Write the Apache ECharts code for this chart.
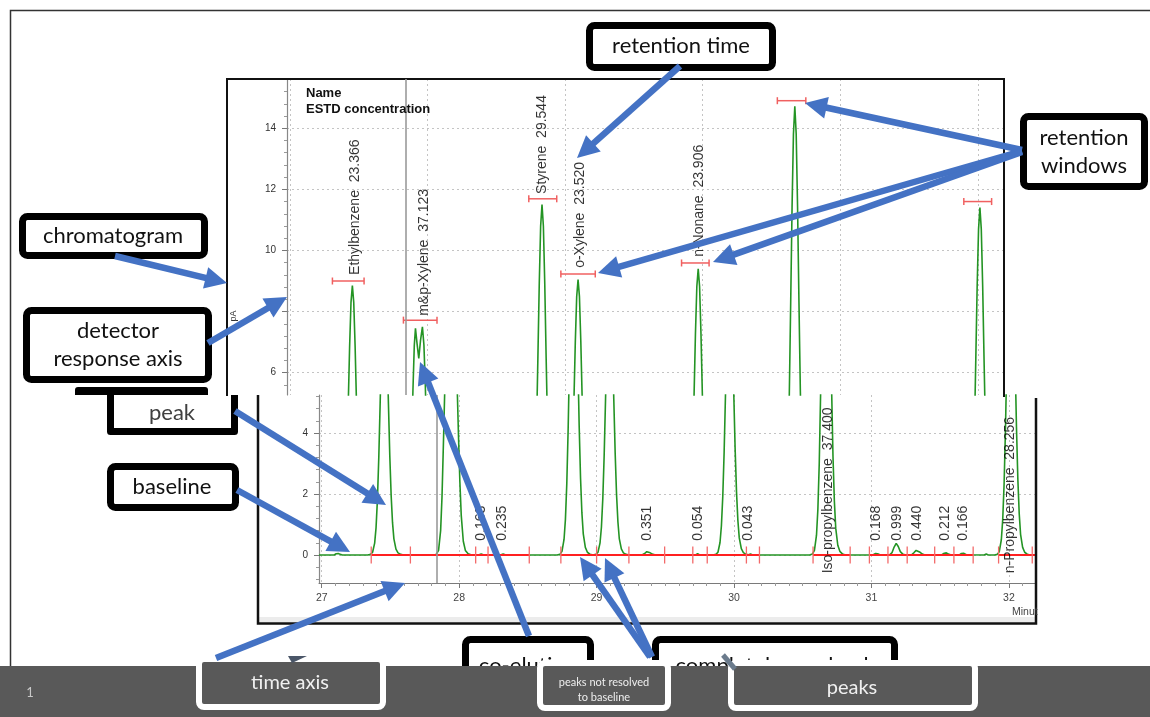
<!DOCTYPE html>
<html><head><meta charset="utf-8">
<script src="https://cdn.jsdelivr.net/npm/echarts@6/dist/echarts.min.js"></script>
<style>html,body{margin:0;padding:0;background:#fff}#c{width:1150px;height:717px}</style>
</head><body><div id="c"></div><script>
// ---------------- DATA ----------------
const trace = [
 [26.98,0],[27.09,0],[27.105,0.04],[27.12,0.05],[27.135,0.02],[27.15,0],
 [27.335,0],[27.355,0.02],[27.37,0.09],[27.385,0.39],[27.395,0.89],[27.405,1.80],[27.415,3.19],[27.425,4.98],[27.435,6.86],[27.445,8.30],[27.455,8.85],[27.465,8.30],[27.475,6.86],[27.485,5.00],[27.495,3.27],[27.505,1.95],[27.515,1.06],[27.525,0.53],[27.54,0.19],[27.555,0.07],[27.575,0.02],[27.595,0],
 [27.83,0],[27.85,0.15],[27.865,0.8],[27.875,1.9],[27.885,3.6],[27.895,5.4],[27.905,6.9],[27.9135,7.45],[27.925,6.95],[27.9375,6.47],[27.95,7.05],[27.964,7.5],[27.975,6.9],[27.985,5.6],[27.995,3.9],[28.005,2.4],[28.015,1.3],[28.03,0.45],[28.045,0.15],[28.065,0.04],[28.09,0],
 [28.14,0],[28.16,0.03],[28.18,0],[28.30,0],[28.32,0.03],[28.34,0],
 [28.713,0],[28.733,0.02],[28.748,0.12],[28.763,0.51],[28.773,1.16],[28.783,2.33],[28.793,4.14],[28.803,6.47],[28.813,8.91],[28.823,10.79],[28.833,11.5],[28.843,10.79],[28.853,8.91],[28.863,6.50],[28.873,4.26],[28.883,2.53],[28.893,1.38],[28.903,0.69],[28.918,0.25],[28.933,0.09],[28.953,0.02],[28.973,0],
 [28.995,0.02],[29.01,0.09],[29.025,0.40],[29.035,0.91],[29.045,1.84],[29.055,3.26],[29.065,5.10],[29.075,7.01],[29.085,8.49],[29.095,9.05],[29.105,8.49],[29.115,7.01],[29.125,5.11],[29.135,3.35],[29.145,1.99],[29.155,1.09],[29.165,0.54],[29.18,0.20],[29.195,0.07],[29.215,0.02],[29.235,0],
 [29.33,0],[29.35,0.05],[29.365,0.11],[29.375,0.12],[29.39,0.07],[29.41,0.02],[29.43,0],
 [29.72,0],[29.735,0.04],[29.75,0],
 [29.848,0],[29.868,0.02],[29.883,0.09],[29.898,0.41],[29.908,0.95],[29.918,1.91],[29.928,3.38],[29.938,5.29],[29.948,7.29],[29.958,8.82],[29.968,9.40],[29.978,8.82],[29.988,7.29],[29.998,5.31],[30.008,3.48],[30.018,2.07],[30.028,1.13],[30.038,0.56],[30.053,0.21],[30.068,0.08],[30.088,0.02],[30.105,0.01],[30.12,0.03],[30.135,0],
 [30.55,0],[30.57,0.03],[30.585,0.15],[30.60,0.65],[30.61,1.49],[30.62,2.99],[30.63,5.30],[30.64,8.29],[30.65,11.41],[30.66,13.81],[30.67,14.72],[30.68,13.81],[30.69,11.41],[30.70,8.32],[30.71,5.45],[30.72,3.24],[30.73,1.77],[30.74,0.88],[30.755,0.32],[30.77,0.12],[30.79,0.03],[30.81,0],
 [31.01,0],[31.03,0.05],[31.045,0.04],[31.065,0],
 [31.13,0],[31.15,0.08],[31.165,0.26],[31.18,0.38],[31.195,0.28],[31.21,0.11],[31.23,0.02],[31.25,0],
 [31.29,0],[31.31,0.08],[31.325,0.15],[31.335,0.16],[31.35,0.10],[31.37,0.03],[31.39,0],
 [31.51,0],[31.53,0.06],[31.545,0.07],[31.565,0.02],[31.58,0],
 [31.64,0],[31.655,0.05],[31.67,0.06],[31.69,0.01],[31.70,0],
 [31.82,0],[31.835,0.03],[31.85,0],
 [31.895,0],[31.915,0.02],[31.93,0.11],[31.945,0.50],[31.955,1.15],[31.965,2.31],[31.975,4.10],[31.985,6.42],[31.995,8.84],[32.005,10.69],[32.015,11.40],[32.025,10.69],[32.035,8.84],[32.045,6.44],[32.055,4.22],[32.065,2.51],[32.075,1.37],[32.085,0.68],[32.10,0.25],[32.115,0.09],[32.135,0.02],[32.155,0],[32.19,0]
];
// retention windows: [start, end, level]
const retentionWindows = [
 [27.31,27.54,9.0],[27.826,28.07,7.72],[28.737,28.94,11.69],[28.97,29.22,9.23],
 [29.847,30.047,9.59],[30.543,30.75,14.9],[31.898,32.10,11.6]
];
// peak labels in the upper view: [time, anchor level, text]
const topLabels = [
 [27.477,9.2,'Ethylbenzene  23.366'],
 [27.974,7.86,'m&p-Xylene  37.123'],
 [28.837,11.85,'Styrene  29.544'],
 [29.113,9.43,'o-Xylene  23.520'],
 [29.972,9.79,'n-Nonane  23.906']
];
// peak labels in the lower (baseline) view
const bottomLabels = [
 [28.16,0.47,'0.163'],[28.316,0.47,'0.235'],[29.369,0.47,'0.351'],[29.737,0.47,'0.054'],
 [30.10,0.47,'0.043'],[30.682,-0.6,'Iso-propylbenzene  37.400'],[31.034,0.47,'0.168'],
 [31.184,0.47,'0.999'],[31.33,0.47,'0.440'],[31.538,0.47,'0.212'],[31.664,0.47,'0.166'],
 [32.009,-0.6,'n-Propylbenzene  28.256']
];
// integration events (peak start/stop marks) and drawn baseline segments
const eventTimes = [27.36,27.645,28.12,28.21,28.51,28.74,29.00,29.235,29.495,29.70,29.805,30.09,30.185,30.575,30.845,30.985,31.12,31.26,31.46,31.60,31.74,31.925,32.17];
const baselineSegments = [[27.36,28.51],[28.74,30.185],[30.575,30.845],[30.985,31.74],[31.925,32.19]];
const cursorTime = [27.835];
const xTicks = [27,28,29,30,31,32];
const yTicksTop = [6,8,10,12,14];
const yTicksBottom = [0,2,4];

// ---------------- STYLE / LAYOUT ----------------
const FONT = '"Liberation Sans", Arial, sans-serif';
const BOXFONT = 'Lato, "Open Sans", sans-serif';
const GREEN = '#249424';
const BLUE = '#4472C4';
const dotted = {show:true, lineStyle:{type:[2,3], color:'#c4c4c4', width:1}};
const X0 = 26.98, X1 = 32.19;

const chart = echarts.init(document.getElementById('c'), null, {renderer:'canvas'});

function tickAxisX(idx, showAll){
  return {
    gridIndex: idx, type:'value', min:X0, max:X1, splitNumber:5,
    axisLine:{show:showAll, onZero:false, lineStyle:{color:'#7a7a7a', width:1}},
    axisTick:{show:showAll, customValues:xTicks, length:5, lineStyle:{color:'#7a7a7a'}},
    minorTick:{show:showAll, splitNumber:10, length:3, lineStyle:{color:'#999'}},
    axisLabel:{show:showAll, customValues:xTicks, fontSize:10.5, color:'#444', margin:10, fontFamily:FONT},
    splitLine: dotted
  };
}
function tickAxisY(idx, min, max, ticks, splitNumber){
  return {
    gridIndex: idx, type:'value', min:min, max:max, splitNumber:splitNumber,
    axisLine:{show:true, onZero:false, lineStyle:{color:'#888', width:1.2}},
    axisTick:{show:true, customValues:ticks, length:5, lineStyle:{color:'#777'}},
    minorTick:{show:true, splitNumber:5, length:3, lineStyle:{color:'#999'}},
    axisLabel:{customValues:ticks, fontSize:10, color:'#333', margin:11, fontFamily:FONT},
    splitLine: dotted
  };
}
const cursorMark = {silent:true, symbol:'none', label:{show:false},
  lineStyle:{color:'#9a9a9a', width:1.6, type:'solid'},
  data: cursorTime.map(t => ({xAxis:t}))};

function labelSeries(idx, list){
  return {type:'scatter', xAxisIndex:idx, yAxisIndex:idx, symbolSize:0, silent:true, z:5,
    data: list.map(d => ({value:[d[0], d[1]], name:d[2]})),
    label:{show:true, formatter:'{b}', rotate:90, position:[0,0], align:'left', verticalAlign:'middle',
      fontSize:14, color:'#000', fontFamily:FONT}};
}

const option = {
  animation:false,
  backgroundColor:'#ffffff',
  textStyle:{fontFamily:FONT},
  grid:[
    {left:287, top:79, width:717, height:316},
    {left:319, top:395, width:716, height:188}
  ],
  xAxis:[ tickAxisX(0,false), tickAxisX(1,true) ],
  yAxis:[ tickAxisY(0, 5.27, 15.61, yTicksTop, 5), tickAxisY(1, -0.918, 5.246, yTicksBottom, 3) ],
  series:[
    {type:'line', xAxisIndex:0, yAxisIndex:0, data:trace, showSymbol:false, clip:true, z:3,
     lineStyle:{color:GREEN, width:1.6}, markLine:cursorMark},
    {type:'line', xAxisIndex:1, yAxisIndex:1, data:trace, showSymbol:false, clip:true, z:3,
     lineStyle:{color:GREEN, width:1.6}, markLine:cursorMark},
    {type:'custom', xAxisIndex:0, yAxisIndex:0, z:4, silent:true, data:retentionWindows,
     renderItem:function(params, api){
       const a = api.coord([api.value(0), api.value(2)]);
       const b = api.coord([api.value(1), api.value(2)]);
       const st = {stroke:'#f06060', lineWidth:1.5};
       return {type:'group', children:[
         {type:'line', shape:{x1:a[0],y1:a[1],x2:b[0],y2:b[1]}, style:st},
         {type:'line', shape:{x1:a[0],y1:a[1]-3.5,x2:a[0],y2:a[1]+3.5}, style:st},
         {type:'line', shape:{x1:b[0],y1:b[1]-3.5,x2:b[0],y2:b[1]+3.5}, style:st}
       ]};
     }},
    {type:'custom', xAxisIndex:1, yAxisIndex:1, z:4, silent:true, data:baselineSegments,
     renderItem:function(params, api){
       const a = api.coord([api.value(0), 0]);
       const b = api.coord([api.value(1), 0]);
       return {type:'line', shape:{x1:a[0],y1:a[1],x2:b[0],y2:b[1]}, style:{stroke:'#ff2020', lineWidth:2}};
     }},
    {type:'custom', xAxisIndex:1, yAxisIndex:1, z:4, silent:true, data:eventTimes.map(t=>[t]),
     renderItem:function(params, api){
       const a = api.coord([api.value(0), 0.28]);
       const b = api.coord([api.value(0), -0.28]);
       return {type:'line', shape:{x1:a[0],y1:a[1],x2:b[0],y2:b[1]}, style:{stroke:'#f36a6a', lineWidth:1.3}};
     }},
    labelSeries(0, topLabels),
    labelSeries(1, bottomLabels)
  ],
  graphic: buildGraphics()
};

function arrow(x0,y0,x1,y1){
  const dx=x1-x0, dy=y1-y0, len=Math.hypot(dx,dy), ux=dx/len, uy=dy/len;
  const L=22, W=11, bx=x1-ux*L, by=y1-uy*L;
  return [
    {type:'line', z:100, silent:true, shape:{x1:x0,y1:y0,x2:bx+ux*3,y2:by+uy*3}, style:{stroke:BLUE, lineWidth:6.5}},
    {type:'polygon', z:100, silent:true, shape:{points:[[x1,y1],[bx-uy*W,by+ux*W],[bx+uy*W,by-ux*W]]}, style:{fill:BLUE}}
  ];
}
function box(x0,y0,x1,y1,fill,stroke,lw,z){
  return {type:'rect', z:z, silent:true, shape:{x:x0+lw/2, y:y0+lw/2, width:x1-x0-lw, height:y1-y0-lw, r:5},
    style:{fill:fill, stroke:stroke, lineWidth:lw}};
}
function txt(x,y,s,size,color,z,extra){
  return Object.assign({type:'text', z:z, silent:true, x:x, y:y,
    style:{text:s, fontSize:size, fontFamily:BOXFONT, fill:color, align:'center', verticalAlign:'middle'}}, extra||{});
}
function buildGraphics(){
  const g = [];
  // slide border
  g.push({type:'polyline', z:0, silent:true, shape:{points:[[10.5,667],[10.5,10.5],[1150,10.5]]}, style:{stroke:'#333', lineWidth:1.5, fill:null}});
  // upper screenshot frame
  g.push({type:'polyline', z:1, silent:true, shape:{points:[[227,396],[227,79],[1004,79],[1004,397]]}, style:{stroke:'#111', lineWidth:2, fill:null}});
  g.push({type:'text', z:6, silent:true, x:306, y:93, style:{text:'Name', fontSize:13, fontWeight:'bold', fontFamily:FONT, fill:'#111', align:'left', verticalAlign:'middle'}});
  g.push({type:'text', z:6, silent:true, x:306, y:109, style:{text:'ESTD concentration', fontSize:13, fontWeight:'bold', fontFamily:FONT, fill:'#111', align:'left', verticalAlign:'middle'}});
  g.push({type:'text', z:6, silent:true, x:234, y:316, rotation:Math.PI/2, style:{text:'pA', fontSize:9, fontFamily:FONT, fill:'#333', align:'center', verticalAlign:'middle'}});
  // lower screenshot frame
  g.push({type:'rect', z:1, silent:true, shape:{x:259, y:617, width:776, height:5}, style:{fill:'#ececec'}});
  g.push({type:'polyline', z:6, silent:true, shape:{points:[[258,395],[258,623.5],[1036,623.5],[1036,398]]}, style:{stroke:'#111', lineWidth:2.5, fill:null}});
  g.push({type:'text', z:6, silent:true, x:1012, y:612, style:{text:'Minut', fontSize:10.5, fontFamily:FONT, fill:'#444', align:'left', verticalAlign:'middle'}});
  // black-framed callout boxes
  g.push(box(586,22,776,71,'#fff','#000',7,90));
  g.push(txt(681,46,'retention time',22,'#111',91));
  g.push(box(1020,113,1148,190,'#fff','#000',7,90));
  g.push(txt(1084,138,'retention',22,'#111',91));
  g.push(txt(1084,166,'windows',22,'#111',91));
  g.push(box(19,213,208,259,'#fff','#000',7,90));
  g.push(txt(113,236,'chromatogram',22,'#111',91));
  g.push(box(23,307,212,383,'#fff','#000',7,90));
  g.push(txt(118,331,'detector',22,'#111',91));
  g.push(txt(118,359,'response axis',22,'#111',91));
  g.push({type:'rect', z:90, silent:true, shape:{x:75, y:387, width:133, height:8, r:[3,3,0,0]}, style:{fill:'#000'}});
  g.push({type:'polyline', z:90, silent:true, shape:{points:[[110.5,395],[110.5,431.5],[234.5,431.5],[234.5,395]]}, style:{stroke:'#000', lineWidth:7, fill:null, lineJoin:'round'}});
  g.push(txt(172,413,'peak',22,'#404040',91));
  g.push(box(107,463,239,511,'#fff','#000',7,90));
  g.push(txt(172,487,'baseline',22,'#111',91));
  g.push(box(462,636,594,700,'#fff','#000',7,90));
  g.push(txt(528,666,'co-elution',22,'#111',91));
  g.push(box(652,636,898,700,'#fff','#000',7,90));
  g.push(txt(772,666,'completely resolved',22,'#111',91));
  // slide footer bar
  g.push({type:'rect', z:95, silent:true, shape:{x:0, y:666, width:1150, height:51}, style:{fill:'#595959'}});
  g.push({type:'text', z:96, silent:true, x:30, y:693, style:{text:'1', fontSize:13, fontFamily:BOXFONT, fill:'#c8c8c8', align:'center', verticalAlign:'middle'}});
  // white-framed dark boxes
  g.push(box(196,656,386,710,'#595959','#fff',6,97));
  g.push(txt(290,683,'time axis',20,'#f0f0f0',98));
  g.push(box(537,660,671,711,'#595959','#fff',6,97));
  g.push(txt(604,682,'peaks not resolved',11,'#eeeeee',98));
  g.push(txt(604,697,'to baseline',11,'#eeeeee',98));
  g.push(box(728,660,978,711,'#595959','#fff',6,97));
  g.push(txt(852,688,'peaks',20,'#f0f0f0',98));
  g.push({type:'polygon', z:99, silent:true, shape:{points:[[288,656],[307,656],[292,663]]}, style:{fill:'#4a5668'}});
  g.push({type:'line', z:99, silent:true, shape:{x1:723,y1:655,x2:735,y2:669}, style:{stroke:'#6b7b8c', lineWidth:5}});
  // arrows
  [[680,66,577,158],[1022,150,805,103],[1022,151,598,273],[1022,152,713,262],
   [115,256,227,283],[208,343,287,297],[235,411,386,505],[237,490,350,552],
   [216,658,405,583],[529,636,420,362],[650,657,580,557],[652,657,605,558]]
   .forEach(a => arrow(a[0],a[1],a[2],a[3]).forEach(e => g.push(e)));
  return g;
}

chart.setOption(option);
</script></body></html>
